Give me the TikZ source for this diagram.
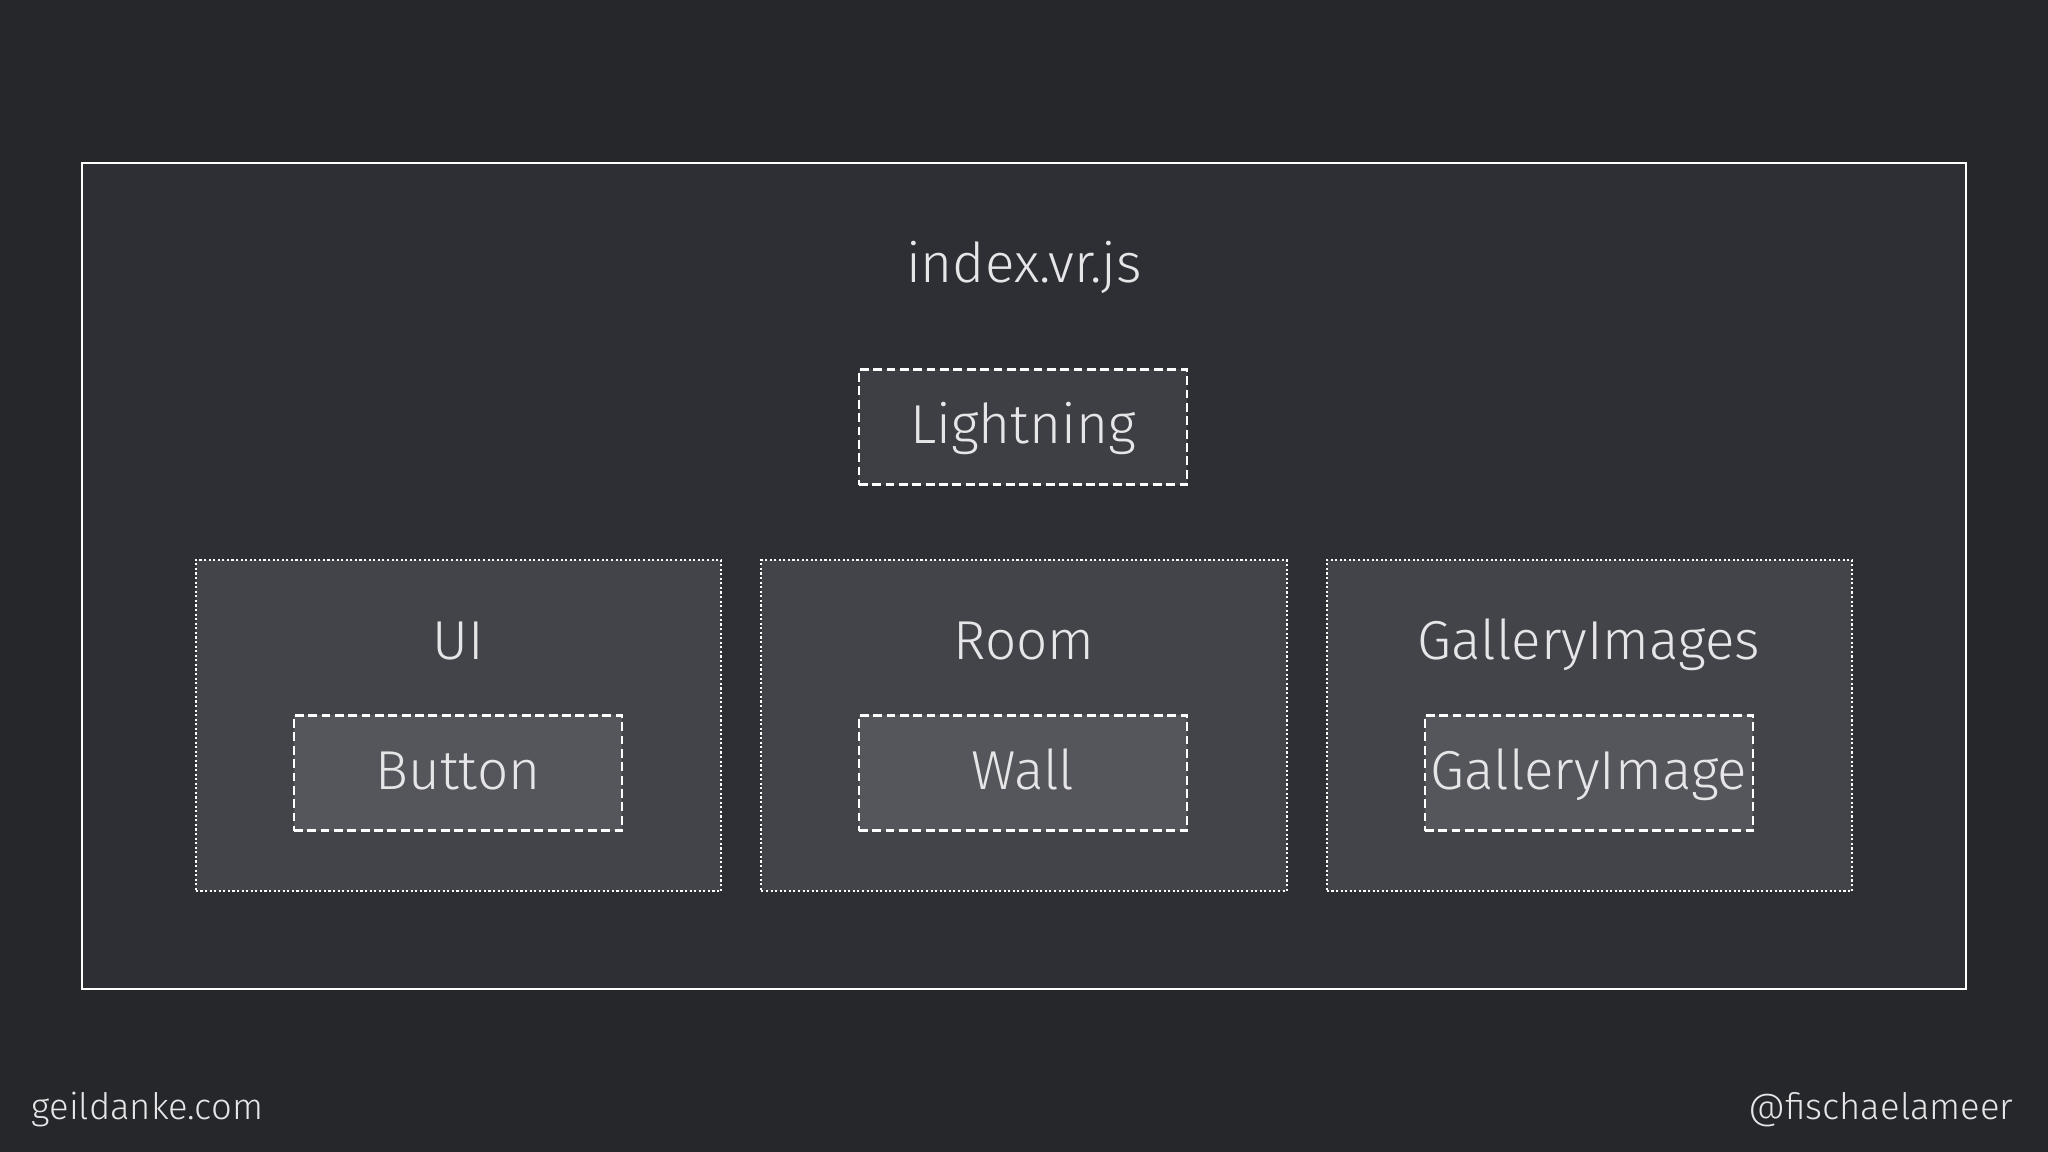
\documentclass[tikz,border=0pt]{standalone}
\usepackage{fontspec}
\setmainfont{Fira Sans}[UprightFont={* Light}]
\usetikzlibrary{positioning}

\definecolor{slidebg}{HTML}{26272B}
\definecolor{framebg}{HTML}{2E2F34}
\definecolor{groupbg}{HTML}{434449}
\definecolor{partbg}{HTML}{55565B}
\definecolor{lightbg}{HTML}{3E3F44}
\definecolor{labeltxt}{HTML}{E6E6E8}

\tikzset{
  groupbox/.style={draw=white,fill=groupbg,line width=0.6pt,dash pattern=on 0.6pt off 0.7pt,
    minimum width=5.25cm,minimum height=3.31cm,inner sep=0pt},
  partbox/.style={draw=white,fill=partbg,line width=0.6pt,dash pattern=on 2.5pt off 1.3pt,
    minimum width=3.28cm,minimum height=1.15cm,inner sep=0pt,text=labeltxt,
    font=\fontsize{15.6}{18}\selectfont,text height=0.98em,text depth=0.03em},
  title/.style={text=labeltxt,font=\fontsize{15.6}{18}\selectfont,inner sep=0pt,
    text height=0.98em,text depth=0.03em},
  footer/.style={text=labeltxt,font=\fontsize{10.35}{12}\selectfont,inner sep=0pt}
}

\begin{document}
\begin{tikzpicture}[x=0.01cm,y=-0.01cm]

\fill [slidebg] (0,0) rectangle (2048,1152);
\useasboundingbox (0,0) rectangle (2048,1152);

% outer frame
\draw [line width=0.6pt,draw=white,fill=framebg] (82,163) -- (1966,163) -- (1966,989) -- (82,989) -- cycle;

\node [title] (index) at (1024,266) {index.vr.js};
\node [partbox,fill=lightbg] (lightning) at (1023,427) {Lightning};

% groups
\node [groupbox] (ui) at (458.5,725.5) {};
\node [groupbox] (room) at (1024,725.5) {};
\node [groupbox] (gallery) at (1589.5,725.5) {};

\node [title] (uititle) at (458,643) {UI};
\node [title] (roomtitle) at (1024,643) {Room};
\node [title] (gallerytitle) at (1589,643) {GalleryImages};

\node [partbox] (button) at (458,773) {Button};
\node [partbox] (wall) at (1023,773) {Wall};
\node [partbox] (galleryimage) at (1589,773) {GalleryImage};

% footer
\node [footer,anchor=west] (site) at (31,1110) {geildanke.com};
\node [footer,anchor=east] (handle) at (2014,1110) {@fischaelameer};

\end{tikzpicture}
\end{document}
